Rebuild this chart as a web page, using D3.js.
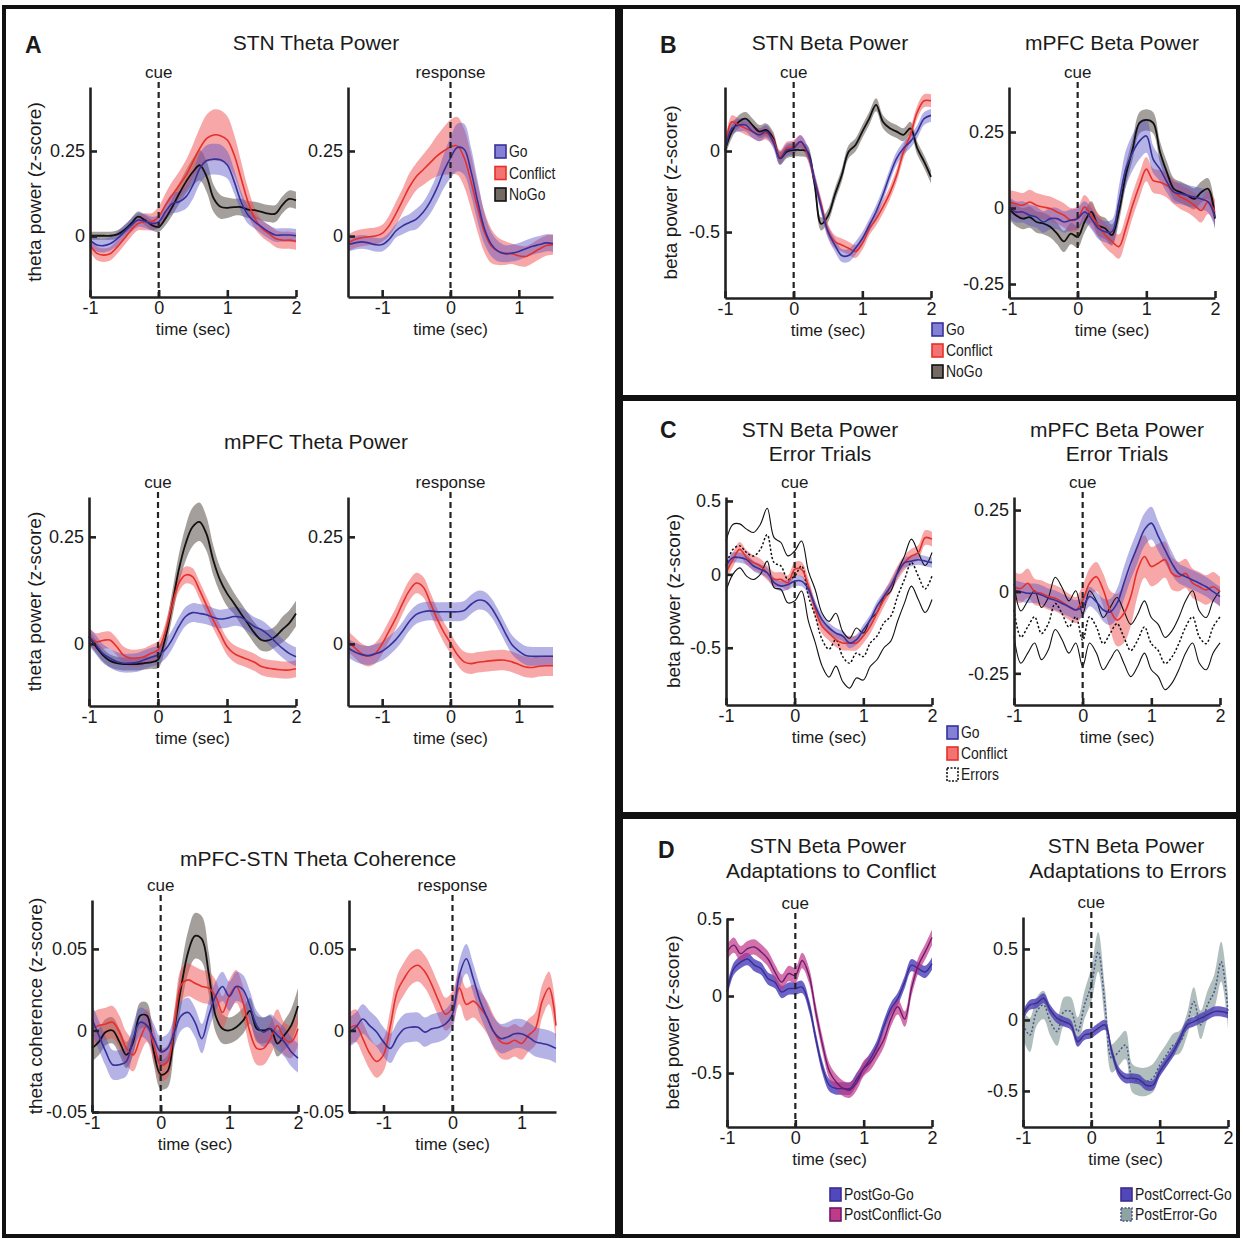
<!DOCTYPE html>
<html><head><meta charset="utf-8">
<script src="https://cdn.jsdelivr.net/npm/d3@7"></script>
<style>
body{margin:0;background:#fff}
svg{display:block}
text{font-family:"Liberation Sans",Arial,Helvetica,sans-serif;fill:#1a1a1a}
</style>
</head><body>
<svg id="fig" width="1243" height="1239"></svg>
<script>
// ---------------- time points ----------------
const timeCue  = [-1,-0.9,-0.8,-0.7,-0.6,-0.5,-0.4,-0.3,-0.2,-0.1,0,0.1,0.2,0.3,0.4,0.5,0.6,0.7,0.8,0.9,1,1.1,1.2,1.3,1.4,1.5,1.6,1.7,1.8,1.9,2];
const timeResp = [-1.5,-1.4,-1.3,-1.2,-1.1,-1,-0.9,-0.8,-0.7,-0.6,-0.5,-0.4,-0.3,-0.2,-0.1,0,0.1,0.2,0.3,0.4,0.5,0.6,0.7,0.8,0.9,1,1.1,1.2,1.3,1.4,1.5];

// ---------------- A: STN theta (cue) ----------------
const stnThetaCueGo       = [-0.012,-0.026,-0.028,-0.022,-0.007,0.013,0.032,0.047,0.044,0.037,0.042,0.072,0.096,0.101,0.116,0.150,0.199,0.222,0.226,0.224,0.209,0.160,0.101,0.062,0.042,0.027,0.013,0.003,0.003,0.003,0.001];
const stnThetaCueGoErr    = [0.02,0.02,0.02,0.02,0.02,0.02,0.02,0.02,0.02,0.02,0.02,0.025,0.03,0.03,0.035,0.04,0.045,0.045,0.045,0.045,0.04,0.035,0.03,0.025,0.02,0.02,0.02,0.02,0.02,0.02,0.02];
const stnThetaCueConflict = [-0.026,-0.051,-0.056,-0.051,-0.031,-0.007,0.018,0.037,0.042,0.042,0.057,0.091,0.121,0.150,0.179,0.219,0.258,0.287,0.297,0.295,0.282,0.238,0.170,0.101,0.052,0.023,0.008,-0.007,-0.012,-0.012,-0.015];
const stnThetaCueConflictErr = [0.02,0.02,0.02,0.02,0.02,0.02,0.02,0.02,0.025,0.025,0.03,0.035,0.04,0.04,0.045,0.05,0.06,0.07,0.075,0.075,0.07,0.06,0.05,0.04,0.03,0.025,0.025,0.025,0.025,0.025,0.025];
const stnThetaCueNoGo     = [0.001,0.001,0.001,0.001,0.005,0.018,0.037,0.057,0.047,0.032,0.027,0.052,0.086,0.125,0.160,0.189,0.208,0.174,0.111,0.086,0.083,0.085,0.085,0.078,0.076,0.071,0.066,0.066,0.091,0.109,0.105];
const stnThetaCueNoGoErr  = [0.012,0.012,0.012,0.012,0.012,0.013,0.015,0.015,0.015,0.015,0.015,0.02,0.025,0.03,0.035,0.04,0.045,0.045,0.04,0.035,0.03,0.025,0.025,0.025,0.025,0.025,0.025,0.025,0.025,0.025,0.025];
// ---------------- A: STN theta (response) ----------------
const stnThetaRespGo       = [-0.025,-0.02,-0.017,-0.02,-0.025,-0.025,-0.01,0.015,0.03,0.04,0.05,0.07,0.10,0.14,0.19,0.23,0.26,0.255,0.19,0.10,0.02,-0.025,-0.045,-0.052,-0.05,-0.045,-0.037,-0.03,-0.025,-0.02,-0.022];
const stnThetaRespGoErr    = [0.02,0.02,0.02,0.02,0.02,0.02,0.02,0.02,0.025,0.025,0.03,0.03,0.035,0.04,0.05,0.06,0.07,0.075,0.07,0.06,0.045,0.035,0.03,0.025,0.025,0.025,0.025,0.025,0.025,0.025,0.025];
const stnThetaRespConflict = [-0.02,-0.01,-0.005,-0.002,0,0.008,0.03,0.065,0.105,0.145,0.175,0.195,0.215,0.235,0.25,0.262,0.265,0.23,0.16,0.08,0.01,-0.03,-0.045,-0.05,-0.052,-0.058,-0.06,-0.05,-0.038,-0.028,-0.025];
const stnThetaRespConflictErr = [0.025,0.025,0.025,0.025,0.025,0.025,0.03,0.035,0.035,0.04,0.04,0.045,0.05,0.06,0.07,0.08,0.085,0.085,0.08,0.07,0.06,0.05,0.04,0.035,0.03,0.03,0.03,0.03,0.03,0.03,0.03];

// ---------------- A: mPFC theta ----------------
const mpfcThetaCueGo       = [0.017,-0.002,-0.022,-0.033,-0.041,-0.045,-0.045,-0.043,-0.037,-0.031,-0.026,-0.014,0.009,0.040,0.064,0.073,0.071,0.068,0.062,0.058,0.060,0.064,0.062,0.052,0.040,0.033,0.021,0.005,-0.010,-0.022,-0.030];
const mpfcThetaCueGoErr    = 0.022;
const mpfcThetaCueConflict = [0.017,0.005,0.008,0.009,-0.006,-0.026,-0.033,-0.033,-0.030,-0.022,-0.014,0.025,0.087,0.141,0.161,0.157,0.126,0.091,0.056,0.025,-0.006,-0.022,-0.030,-0.036,-0.043,-0.053,-0.057,-0.059,-0.061,-0.061,-0.058];
const mpfcThetaCueConflictErr = 0.02;
const mpfcThetaCueNoGo     = [0.017,-0.006,-0.026,-0.039,-0.045,-0.047,-0.047,-0.047,-0.045,-0.043,-0.037,0.009,0.087,0.172,0.234,0.273,0.285,0.258,0.196,0.149,0.118,0.095,0.071,0.048,0.025,0.009,0.008,0.017,0.033,0.048,0.071];
const mpfcThetaCueNoGoErr  = [0.015,0.015,0.015,0.015,0.015,0.015,0.015,0.015,0.015,0.015,0.02,0.025,0.03,0.035,0.04,0.045,0.045,0.04,0.035,0.03,0.03,0.025,0.025,0.025,0.025,0.025,0.025,0.025,0.03,0.03,0.03];
const mpfcThetaRespGo       = [-0.009,-0.019,-0.025,-0.027,-0.023,-0.017,-0.005,0.010,0.030,0.053,0.069,0.075,0.077,0.075,0.075,0.075,0.075,0.078,0.092,0.102,0.100,0.084,0.057,0.026,-0.002,-0.017,-0.027,-0.029,-0.029,-0.029,-0.029];
const mpfcThetaRespGoErr    = 0.022;
const mpfcThetaRespConflict = [0.006,-0.009,-0.023,-0.029,-0.022,0.0,0.03,0.06,0.095,0.125,0.142,0.133,0.098,0.06,0.028,0.002,-0.025,-0.042,-0.046,-0.043,-0.041,-0.039,-0.038,-0.038,-0.042,-0.048,-0.054,-0.055,-0.052,-0.051,-0.051];
const mpfcThetaRespConflictErr = 0.024;

// ---------------- A: mPFC-STN theta coherence ----------------
const cohCueGo       = [0.007,-0.003,-0.013,-0.021,-0.021,-0.019,-0.005,0.005,0.003,-0.005,-0.013,-0.011,-0.001,0.009,0.011,0.005,-0.005,0.009,0.021,0.027,0.021,0.027,0.025,0.015,0.003,-0.001,0.001,-0.003,-0.007,-0.013,-0.017];
const cohCueGoErr    = 0.009;
const cohCueConflict = [0.001,0.003,0.004,0.005,-0.001,-0.011,-0.015,-0.005,0.003,-0.009,-0.021,-0.019,0.003,0.028,0.031,0.029,0.027,0.026,0.021,0.011,0.021,0.027,0.017,-0.001,-0.011,-0.011,-0.005,0.003,-0.005,-0.007,0.001];
const cohCueConflictErr = 0.01;
const cohCueNoGo     = [-0.011,-0.007,-0.001,0,-0.007,-0.015,-0.007,0.009,0.009,-0.013,-0.027,-0.025,0.001,0.027,0.048,0.058,0.056,0.035,0.009,0.001,0,0.002,0.006,0.012,0.001,0,0.001,-0.008,-0.003,0.003,0.015];
const cohCueNoGoErr  = [0.008,0.008,0.008,0.008,0.008,0.008,0.008,0.008,0.008,0.008,0.009,0.01,0.011,0.012,0.013,0.014,0.014,0.013,0.01,0.009,0.008,0.008,0.008,0.008,0.008,0.008,0.008,0.008,0.009,0.01,0.011];
const cohRespGo       = [-0.001,0.002,0.007,0.003,-0.001,-0.007,-0.011,-0.004,0.001,0.002,0.002,-0.001,0.001,0.002,0.004,0.010,0.034,0.044,0.032,0.018,0.008,-0.001,-0.005,-0.004,-0.002,-0.002,-0.004,-0.007,-0.008,-0.009,-0.011];
const cohRespGoErr    = 0.009;
const cohRespConflict = [0.001,0.003,-0.005,-0.014,-0.019,-0.015,0.003,0.024,0.032,0.038,0.040,0.036,0.028,0.018,0.010,0.014,0.026,0.016,0.018,0.014,0.008,-0.001,-0.007,-0.008,-0.006,-0.008,-0.003,0.001,0.018,0.026,0.003];
const cohRespConflictErr = 0.01;

// ---------------- B: beta power ----------------
const stnBetaGo       = [-0.004,0.14,0.16,0.16,0.12,0.10,0.12,0.058,-0.045,0.006,0.017,0.058,-0.004,-0.17,-0.345,-0.50,-0.58,-0.645,-0.645,-0.60,-0.54,-0.46,-0.375,-0.27,-0.15,-0.045,0.017,0.058,0.12,0.20,0.22];
const stnBetaConflict = [0.006,0.18,0.16,0.14,0.12,0.10,0.11,0.07,-0.035,0.017,0.027,0.058,-0.014,-0.17,-0.33,-0.49,-0.56,-0.58,-0.60,-0.62,-0.57,-0.48,-0.42,-0.345,-0.26,-0.15,-0.004,0.10,0.24,0.31,0.31];
const stnBetaNoGo     = [0.006,0.12,0.18,0.20,0.16,0.12,0.13,0.08,-0.045,-0.004,0.006,0.006,-0.004,-0.19,-0.45,-0.40,-0.27,-0.15,-0.004,0.037,0.12,0.20,0.285,0.18,0.14,0.12,0.10,0.14,0.017,-0.066,-0.16];
const stnBetaErr = 0.04;
const mpfcBetaGo       = [0.003,-0.013,-0.013,-0.024,-0.03,-0.046,-0.035,-0.035,-0.046,-0.04,-0.035,-0.013,-0.035,-0.067,-0.078,-0.078,0.02,0.128,0.183,0.22,0.237,0.16,0.128,0.085,0.052,0.047,0.041,0.036,0.03,0.02,-0.03];
const mpfcBetaGoErr    = [0.035,0.035,0.035,0.035,0.035,0.035,0.035,0.035,0.035,0.035,0.035,0.035,0.035,0.035,0.035,0.04,0.05,0.06,0.06,0.06,0.055,0.045,0.04,0.035,0.035,0.035,0.035,0.035,0.035,0.035,0.035];
const mpfcBetaConflict = [0.02,0.014,0.009,0.02,0.009,0.003,-0.002,-0.013,-0.024,-0.04,-0.035,0.003,-0.024,-0.057,-0.089,-0.11,-0.127,-0.067,0.009,0.074,0.128,0.09,0.085,0.074,0.052,0.036,0.025,0.009,-0.008,0.02,-0.013];
const mpfcBetaConflictErr = 0.04;
const mpfcBetaNoGo     = [-0.002,-0.024,-0.035,-0.03,-0.046,-0.051,-0.062,-0.084,-0.11,-0.084,-0.095,-0.046,-0.013,-0.057,-0.067,-0.089,-0.013,0.107,0.193,0.28,0.29,0.28,0.183,0.117,0.063,0.052,0.041,0.03,0.052,0.063,-0.035];
const mpfcBetaNoGoErr  = 0.035;

// ---------------- C: error trials ----------------
const stnErrGo       = [0.057,0.114,0.114,0.10,0.057,0.034,0.011,-0.057,-0.08,-0.07,-0.046,-0.046,-0.10,-0.217,-0.31,-0.365,-0.40,-0.42,-0.468,-0.445,-0.377,-0.31,-0.217,-0.148,-0.08,0.011,0.08,0.09,0.10,0.09,0.08];
const stnErrGoErr    = 0.035;
const stnErrConflict = [0.011,0.10,0.17,0.114,0.08,0.057,0.011,-0.034,-0.034,-0.057,0.034,0.034,-0.08,-0.24,-0.354,-0.40,-0.445,-0.468,-0.468,-0.468,-0.42,-0.354,-0.263,-0.171,-0.08,0.011,0.08,0.125,0.148,0.25,0.24];
const stnErrConflictErr = 0.05;
const stnErrErrors   = [0.057,0.17,0.194,0.148,0.125,0.17,0.27,0.08,0.057,-0.034,-0.011,0.057,-0.148,-0.285,-0.445,-0.51,-0.445,-0.56,-0.605,-0.536,-0.56,-0.468,-0.42,-0.33,-0.285,-0.148,-0.034,0.08,-0.011,-0.10,-0.011];
const stnErrErrorsErr = [0.17,0.17,0.15,0.16,0.16,0.17,0.18,0.17,0.16,0.16,0.17,0.17,0.17,0.18,0.18,0.19,0.18,0.17,0.17,0.17,0.16,0.16,0.16,0.17,0.17,0.17,0.16,0.16,0.16,0.16,0.16];
const mpfcErrGo       = [0.005,0,-0.005,-0.005,-0.01,-0.02,-0.026,-0.036,-0.046,-0.056,-0.046,-0.015,-0.031,-0.056,-0.062,-0.036,0.026,0.087,0.139,0.19,0.21,0.17,0.128,0.087,0.056,0.046,0.036,0.026,0.015,0,-0.015];
const mpfcErrGoErr    = [0.03,0.03,0.03,0.03,0.03,0.03,0.03,0.03,0.03,0.03,0.03,0.03,0.03,0.035,0.04,0.045,0.05,0.05,0.05,0.05,0.05,0.045,0.04,0.035,0.03,0.03,0.03,0.03,0.03,0.03,0.03];
const mpfcErrConflict = [0.015,0.01,0.026,0,-0.005,-0.015,-0.02,-0.031,-0.046,-0.056,-0.026,0.026,0.046,0.005,-0.056,-0.087,-0.067,-0.015,0.067,0.108,0.077,0.087,0.098,0.056,0.046,0.056,0.026,0.015,0.005,0.015,0];
const mpfcErrConflictErr = [0.045,0.045,0.045,0.04,0.04,0.04,0.04,0.04,0.04,0.04,0.045,0.045,0.045,0.05,0.06,0.08,0.09,0.09,0.08,0.065,0.06,0.06,0.055,0.05,0.045,0.045,0.045,0.045,0.045,0.045,0.045];
const mpfcErrErrors   = [-0.056,-0.139,-0.108,-0.077,-0.128,-0.098,-0.036,-0.067,-0.108,-0.077,-0.149,-0.077,-0.108,-0.159,-0.128,-0.098,-0.139,-0.18,-0.149,-0.108,-0.159,-0.18,-0.22,-0.2,-0.159,-0.108,-0.077,-0.139,-0.159,-0.108,-0.077];
const mpfcErrErrorsErr = 0.08;

// ---------------- D: adaptations ----------------
const adaptConfPostGo       = [0.026,0.177,0.22,0.24,0.20,0.177,0.113,0.09,0.026,0.048,0.048,0.058,-0.06,-0.277,-0.47,-0.58,-0.60,-0.60,-0.60,-0.537,-0.47,-0.407,-0.32,-0.19,-0.082,-0.017,0.09,0.20,0.177,0.156,0.21];
const adaptConfPostGoErr    = 0.04;
const adaptConfPostConflict = [0.286,0.33,0.275,0.307,0.318,0.286,0.24,0.156,0.09,0.145,0.134,0.23,0.134,-0.104,-0.32,-0.49,-0.56,-0.60,-0.61,-0.56,-0.47,-0.43,-0.36,-0.277,-0.147,-0.07,-0.15,0.05,0.20,0.286,0.38];
const adaptConfPostConflictErr = 0.05;
const adaptErrPostCorrect    = [0.035,0.106,0.118,0.153,0.07,0.012,-0.012,-0.035,-0.153,-0.106,-0.094,-0.059,-0.035,-0.224,-0.365,-0.41,-0.41,-0.42,-0.46,-0.46,-0.365,-0.294,-0.224,-0.13,-0.035,-0.012,0.012,0.035,0.059,0.059,0.047];
const adaptErrPostCorrectErr = 0.035;
const adaptErrPostError      = [-0.035,-0.106,0.059,0.106,-0.012,-0.082,0.059,0.059,-0.082,0.106,0.247,0.48,0.106,-0.27,-0.224,-0.176,-0.41,-0.435,-0.435,-0.41,-0.318,-0.247,-0.176,-0.153,-0.035,0.13,-0.035,0.106,0.2,0.41,0.059];
const adaptErrPostErrorErr   = [0.1,0.12,0.1,0.1,0.1,0.1,0.1,0.1,0.1,0.1,0.12,0.14,0.12,0.1,0.1,0.1,0.1,0.1,0.1,0.1,0.08,0.08,0.08,0.08,0.08,0.1,0.1,0.1,0.12,0.14,0.12];

// ---------------- tick labels / legends ----------------
const xTicksCue = [-1,0,1,2];
const xTicksResp = [-1,0,1];
const legendABC = ["Go","Conflict","NoGo"];
const legendC = ["Go","Conflict","Errors"];
const legendDConf = ["PostGo-Go","PostConflict-Go"];
const legendDErr = ["PostCorrect-Go","PostError-Go"];

// ---------------- styles ----------------
const ST = {
  go:          {fill:"#5a55c8", fo:0.45, stroke:"#36319a", w:1.6},
  conflict:    {fill:"#f05050", fo:0.5,  stroke:"#e5302b", w:1.6},
  nogo:        {fill:"#5a5048", fo:0.55, stroke:"#111111", w:1.8},
  errors:      {lines:true, stroke:"#111111", w:1.1, dash:"2.2,2"},
  postGo:      {fill:"#5148bd", fo:0.85, stroke:"#3a2e92", w:1.4},
  postConflict:{fill:"#c03a8a", fo:0.72, stroke:"#701a6c", w:1.4},
  postCorrect: {fill:"#5247b8", fo:0.85, stroke:"#3a2e8e", w:1.4},
  postError:   {fill:"#8fa3a1", fo:0.7,  stroke:"#4a5590", w:1.5, dash:"2,2"}
};

const svg = d3.select("#fig");
const FONT = '"Liberation Sans",Arial,Helvetica,sans-serif';

// ---------------- frames ----------------
svg.append("rect").attr("x",4).attr("y",7).attr("width",613).attr("height",1229)
  .attr("fill","none").attr("stroke","#111").attr("stroke-width",4);
[[7,390],[399,415],[817,419]].forEach(([y,h])=>{
  svg.append("rect").attr("x",621).attr("y",y).attr("width",617).attr("height",h)
    .attr("fill","none").attr("stroke","#111").attr("stroke-width",4);
});

function txt(x,y,s,size,opts={}){
  const t = svg.append("text").attr("x",x).attr("y",y).attr("font-size",size)
    .attr("text-anchor",opts.anchor||"middle").text(s);
  if(opts.bold) t.attr("font-weight","bold");
  return t;
}

function drawPlot(p){
  const x = d3.scaleLinear().domain(p.xDom).range([p.x0,p.x1]);
  const y = d3.scaleLinear().domain(p.yDom).range([p.yB,p.yT]);
  const g = svg.append("g");
  const errAt = (e,i)=> (typeof e === "number") ? e : e[i];
  const curve = d3.curveCatmullRom.alpha(0.5);
  // bands
  p.series.forEach(([key,vals,err])=>{
    const s = ST[key];
    if(s.lines) return;
    const area = d3.area().x((d,i)=>x(p.times[i])).y0((d,i)=>y(d-errAt(err,i))).y1((d,i)=>y(d+errAt(err,i))).curve(curve);
    g.append("path").attr("d",area(vals)).attr("fill",s.fill).attr("fill-opacity",s.fo).attr("stroke","none");
  });
  // lines
  p.series.forEach(([key,vals,err])=>{
    const s = ST[key];
    const line = d3.line().x((d,i)=>x(p.times[i])).y(d=>y(d)).curve(curve);
    if(s.lines){
      [-1,1].forEach(sg=>{
        const l2 = d3.line().x((d,i)=>x(p.times[i])).y((d,i)=>y(d+sg*errAt(err,i))).curve(curve);
        g.append("path").attr("d",l2(vals)).attr("fill","none").attr("stroke",s.stroke).attr("stroke-width",s.w);
      });
      g.append("path").attr("d",line(vals)).attr("fill","none").attr("stroke",s.stroke)
        .attr("stroke-width",1.5).attr("stroke-dasharray",s.dash);
    } else {
      const pth = g.append("path").attr("d",line(vals)).attr("fill","none").attr("stroke",s.stroke).attr("stroke-width",s.w);
      if(s.dash) pth.attr("stroke-dasharray",s.dash);
    }
  });
  // axes
  const fmt = d=>String(d);
  const ax = svg.append("g").attr("transform",`translate(0,${p.yB})`)
    .call(d3.axisBottom(x).tickValues(p.xTicks).tickSize(-7).tickSizeOuter(0).tickPadding(4).tickFormat(fmt));
  const ay = svg.append("g").attr("transform",`translate(${p.x0},0)`)
    .call(d3.axisLeft(y).tickValues(p.yTicks).tickSize(-7).tickSizeOuter(0).tickPadding(5).tickFormat(fmt));
  [ax,ay].forEach(a=>{
    a.attr("font-size",18).attr("font-family",FONT).attr("color","#1a1a1a");
    a.selectAll("path,line").attr("stroke","#222").attr("stroke-width",2.6);
  });
  // marker
  svg.append("line").attr("x1",x(0)).attr("x2",x(0)).attr("y1",p.yT-5).attr("y2",p.yB)
    .attr("stroke","#222").attr("stroke-width",2.2).attr("stroke-dasharray","6,4");
  txt(x(0),p.yT-9,p.marker,17);
  // labels
  txt((p.x0+p.x1)/2,p.yB+38,"time (sec)",17);
  if(p.ylabel){
    svg.append("text").attr("transform",`translate(${p.ylx},${(p.yT+p.yB)/2}) rotate(-90)`)
      .attr("text-anchor","middle").attr("dy","0.35em").attr("font-size",19).text(p.ylabel);
  }
}

function legend(x,y0,dy,items){
  items.forEach(([label,key],i)=>{
    const s = ST[key];
    const yy = y0+i*dy;
    const r = svg.append("rect").attr("x",x).attr("y",yy-12).attr("width",11).attr("height",13);
    if(s.lines){
      r.attr("fill","#fff").attr("stroke","#111").attr("stroke-width",1.6).attr("stroke-dasharray","2,1.5");
    } else {
      r.attr("fill",s.fill).attr("fill-opacity",Math.min(1,s.fo+0.3)).attr("stroke",s.stroke).attr("stroke-width",1.6);
      if(s.dash) r.attr("stroke-dasharray","2,1.5");
    }
    svg.append("text").attr("transform",`translate(${x+14},${yy}) scale(0.82,1)`)
      .attr("font-size",17).text(label);
  });
}

// ---------------- panel A ----------------
txt(25,53,"A",23,{anchor:"start",bold:true});
txt(316,50,"STN Theta Power",21);
drawPlot({x0:90,x1:296,yT:87,yB:297,xDom:[-1,2],yDom:[-0.179,0.438],xTicks:xTicksCue,yTicks:[0,0.25],
  times:timeCue,marker:"cue",ylabel:"theta power (z-score)",ylx:34,
  series:[["nogo",stnThetaCueNoGo,stnThetaCueNoGoErr],["conflict",stnThetaCueConflict,stnThetaCueConflictErr],["go",stnThetaCueGo,stnThetaCueGoErr]]});
drawPlot({x0:348,x1:553,yT:87,yB:297,xDom:[-1.5,1.5],yDom:[-0.179,0.438],xTicks:xTicksResp,yTicks:[0,0.25],
  times:timeResp,marker:"response",
  series:[["conflict",stnThetaRespConflict,stnThetaRespConflictErr],["go",stnThetaRespGo,stnThetaRespGoErr]]});
legend(495,157,21.5,[[legendABC[0],"go"],[legendABC[1],"conflict"],[legendABC[2],"nogo"]]);

txt(316,449,"mPFC Theta Power",21);
drawPlot({x0:89,x1:296,yT:497,yB:706,xDom:[-1,2],yDom:[-0.145,0.343],xTicks:xTicksCue,yTicks:[0,0.25],
  times:timeCue,marker:"cue",ylabel:"theta power (z-score)",ylx:34,
  series:[["nogo",mpfcThetaCueNoGo,mpfcThetaCueNoGoErr],["conflict",mpfcThetaCueConflict,mpfcThetaCueConflictErr],["go",mpfcThetaCueGo,mpfcThetaCueGoErr]]});
drawPlot({x0:348,x1:553,yT:497,yB:706,xDom:[-1.5,1.5],yDom:[-0.145,0.343],xTicks:xTicksResp,yTicks:[0,0.25],
  times:timeResp,marker:"response",
  series:[["conflict",mpfcThetaRespConflict,mpfcThetaRespConflictErr],["go",mpfcThetaRespGo,mpfcThetaRespGoErr]]});

txt(318,866,"mPFC-STN Theta Coherence",21);
drawPlot({x0:92,x1:298,yT:900,yB:1112,xDom:[-1,2],yDom:[-0.05,0.08],xTicks:xTicksCue,yTicks:[-0.05,0,0.05],
  times:timeCue,marker:"cue",ylabel:"theta coherence (z-score)",ylx:35,
  series:[["nogo",cohCueNoGo,cohCueNoGoErr],["conflict",cohCueConflict,cohCueConflictErr],["go",cohCueGo,cohCueGoErr]]});
drawPlot({x0:349,x1:556,yT:900,yB:1112,xDom:[-1.5,1.5],yDom:[-0.05,0.08],xTicks:xTicksResp,yTicks:[-0.05,0,0.05],
  times:timeResp,marker:"response",
  series:[["conflict",cohRespConflict,cohRespConflictErr],["go",cohRespGo,cohRespGoErr]]});

// ---------------- panel B ----------------
txt(660,53,"B",23,{anchor:"start",bold:true});
txt(830,50,"STN Beta Power",21);
txt(1112,50,"mPFC Beta Power",21);
drawPlot({x0:725,x1:931,yT:87,yB:298,xDom:[-1,2],yDom:[-0.907,0.395],xTicks:xTicksCue,yTicks:[-0.5,0],
  times:timeCue,marker:"cue",ylabel:"beta power (z-score)",ylx:670,
  series:[["nogo",stnBetaNoGo,stnBetaErr],["conflict",stnBetaConflict,stnBetaErr],["go",stnBetaGo,stnBetaErr]]});
drawPlot({x0:1009,x1:1215,yT:87,yB:298,xDom:[-1,2],yDom:[-0.296,0.398],xTicks:xTicksCue,yTicks:[-0.25,0,0.25],
  times:timeCue,marker:"cue",
  series:[["nogo",mpfcBetaNoGo,mpfcBetaNoGoErr],["conflict",mpfcBetaConflict,mpfcBetaConflictErr],["go",mpfcBetaGo,mpfcBetaGoErr]]});
legend(932,335,21,[[legendABC[0],"go"],[legendABC[1],"conflict"],[legendABC[2],"nogo"]]);

// ---------------- panel C ----------------
txt(660,438,"C",23,{anchor:"start",bold:true});
txt(820,437,"STN Beta Power",21); txt(820,461,"Error Trials",21);
txt(1117,437,"mPFC Beta Power",21); txt(1117,461,"Error Trials",21);
drawPlot({x0:726,x1:932,yT:497,yB:705,xDom:[-1,2],yDom:[-0.89,0.527],xTicks:xTicksCue,yTicks:[-0.5,0,0.5],
  times:timeCue,marker:"cue",ylabel:"beta power (z-score)",ylx:673,
  series:[["errors",stnErrErrors,stnErrErrorsErr],["conflict",stnErrConflict,stnErrConflictErr],["go",stnErrGo,stnErrGoErr]]});
drawPlot({x0:1014,x1:1220,yT:497,yB:705,xDom:[-1,2],yDom:[-0.347,0.29],xTicks:xTicksCue,yTicks:[-0.25,0,0.25],
  times:timeCue,marker:"cue",
  series:[["errors",mpfcErrErrors,mpfcErrErrorsErr],["conflict",mpfcErrConflict,mpfcErrConflictErr],["go",mpfcErrGo,mpfcErrGoErr]]});
legend(947,738,21,[[legendC[0],"go"],[legendC[1],"conflict"],[legendC[2],"errors"]]);

// ---------------- panel D ----------------
txt(658,858,"D",23,{anchor:"start",bold:true});
txt(828,853,"STN Beta Power",21); txt(831,878,"Adaptations to Conflict",21);
txt(1126,853,"STN Beta Power",21); txt(1128,878,"Adaptations to Errors",21);
drawPlot({x0:727,x1:932,yT:918,yB:1127,xDom:[-1,2],yDom:[-0.85,0.506],xTicks:xTicksCue,yTicks:[-0.5,0,0.5],
  times:timeCue,marker:"cue",ylabel:"beta power (z-score)",ylx:672,
  series:[["postGo",adaptConfPostGo,adaptConfPostGoErr],["postConflict",adaptConfPostConflict,adaptConfPostConflictErr]]});
drawPlot({x0:1023,x1:1228,yT:917,yB:1127,xDom:[-1,2],yDom:[-0.754,0.725],xTicks:xTicksCue,yTicks:[-0.5,0,0.5],
  times:timeCue,marker:"cue",
  series:[["postError",adaptErrPostError,adaptErrPostErrorErr],["postCorrect",adaptErrPostCorrect,adaptErrPostCorrectErr]]});
legend(830,1200,20,[[legendDConf[0],"postGo"],[legendDConf[1],"postConflict"]]);
legend(1121,1200,20,[[legendDErr[0],"postCorrect"],[legendDErr[1],"postError"]]);
</script>
</body></html>
